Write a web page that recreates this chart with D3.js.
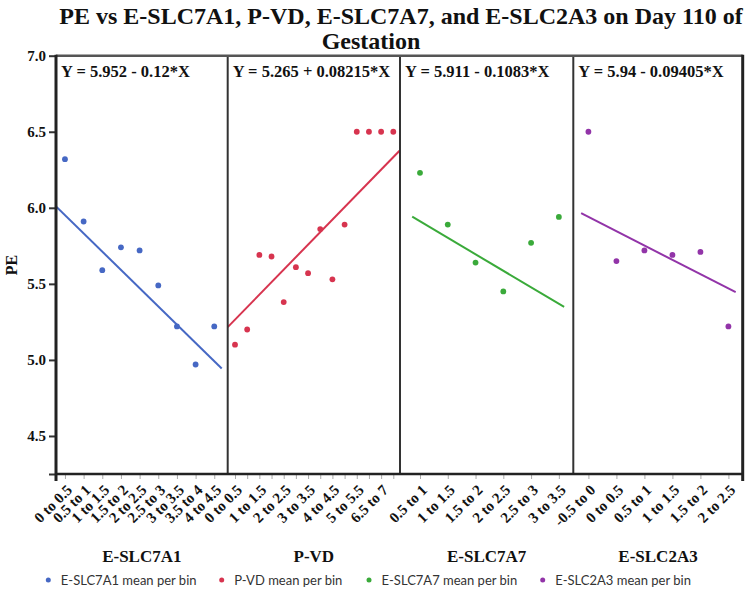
<!DOCTYPE html>
<html>
<head>
<meta charset="utf-8">
<script src="https://cdn.jsdelivr.net/npm/d3@7"></script>
<style>
  html, body { margin: 0; padding: 0; background: #fff; }
  svg { display: block; }
</style>
</head>
<body>
<svg id="chart" width="750" height="591"></svg>
<script>
// ---------- DATA ----------
const titleLines = ["PE vs E-SLC7A1, P-VD, E-SLC7A7, and E-SLC2A3 on Day 110 of", "Gestation"];
const yLabel = "PE";
const panelNames = ["E-SLC7A1", "P-VD", "E-SLC7A7", "E-SLC2A3"];

const binsSLC7A1 = ["0 to 0.5", "0.5 to 1", "1 to 1.5", "1.5 to 2", "2 to 2.5", "2.5 to 3", "3 to 3.5", "3.5 to 4", "4 to 4.5"];
const meansSLC7A1 = [6.32, 5.91, 5.59, 5.74, 5.72, 5.49, 5.22, 4.97, 5.22];

const binsPVD = ["0 to 0.5", "0.5 to 1", "1 to 1.5", "1.5 to 2", "2 to 2.5", "2.5 to 3", "3 to 3.5", "3.5 to 4", "4 to 4.5", "4.5 to 5", "5 to 5.5", "5.5 to 6", "6.5 to 7", "7 to 7.5"];
const meansPVD = [5.10, 5.20, 5.69, 5.68, 5.38, 5.61, 5.57, 5.86, 5.53, 5.89, 6.50, 6.50, 6.50, 6.50];
const shownPVDLabels = ["0 to 0.5", "1 to 1.5", "2 to 2.5", "3 to 3.5", "4 to 4.5", "5 to 5.5", "6.5 to 7"];

const binsSLC7A7 = ["0.5 to 1", "1 to 1.5", "1.5 to 2", "2 to 2.5", "2.5 to 3", "3 to 3.5"];
const meansSLC7A7 = [6.23, 5.89, 5.64, 5.45, 5.77, 5.94];

const binsSLC2A3 = ["-0.5 to 0", "0 to 0.5", "0.5 to 1", "1 to 1.5", "1.5 to 2", "2 to 2.5"];
const meansSLC2A3 = [6.50, 5.65, 5.72, 5.69, 5.71, 5.22];

const intercepts = [5.952, 5.265, 5.911, 5.94];
const slopes = [-0.12, 0.08215, -0.1083, -0.09405];
const equations = ["Y = 5.952 - 0.12*X", "Y = 5.265 + 0.08215*X", "Y = 5.911 - 0.1083*X", "Y = 5.94 - 0.09405*X"];
// predictor extent (in bin-index units) over which each fit line is drawn
const fitExtents = [[-0.45, 8.4], [-0.6, 13.55], [-0.28, 5.19], [-0.26, 5.26]];

const yTicks = [4.5, 5.0, 5.5, 6.0, 6.5, 7.0];
const yDomain = [4.25, 7.0];
const legendLabels = ["E-SLC7A1 mean per bin", "P-VD mean per bin", "E-SLC7A7 mean per bin", "E-SLC2A3 mean per bin"];

// ---------- LAYOUT / STYLE ----------
const colors = ["#4668c4", "#d7344f", "#3aaa3a", "#9234a8"];
const panelEdges = [56, 227.7, 400, 573.3, 742.7];
const panelXDomains = [[-0.48, 8.72], [-0.6, 13.55], [-0.72, 5.52], [-0.54, 5.51]];
const plotTop = 55.7, plotBottom = 474;
const serif = "'Liberation Serif', 'Times New Roman', serif";
const sans = "Lato, 'Noto Sans', sans-serif";

const panels = [
  { bins: binsSLC7A1, means: meansSLC7A1, shown: binsSLC7A1 },
  { bins: binsPVD, means: meansPVD, shown: shownPVDLabels },
  { bins: binsSLC7A7, means: meansSLC7A7, shown: binsSLC7A7 },
  { bins: binsSLC2A3, means: meansSLC2A3, shown: binsSLC2A3 }
];

const svg = d3.select("#chart");
const y = d3.scaleLinear().domain(yDomain).range([plotBottom, plotTop]);

// Title
svg.append("text").attr("x", 401).attr("y", 24).attr("text-anchor", "middle")
  .attr("font-family", serif).attr("font-weight", "bold").attr("font-size", 24).attr("fill", "#111")
  .text(titleLines[0]);
svg.append("text").attr("x", 371).attr("y", 49).attr("text-anchor", "middle")
  .attr("font-family", serif).attr("font-weight", "bold").attr("font-size", 24).attr("fill", "#111")
  .text(titleLines[1]);

// Y axis label
svg.append("text").attr("transform", `translate(16.5,265) rotate(-90)`).attr("text-anchor", "middle")
  .attr("font-family", serif).attr("font-weight", "bold").attr("font-size", 16).attr("fill", "#111")
  .text(yLabel);

// Y axis
const yAxis = d3.axisLeft(y).tickValues(yTicks.concat([yDomain[0]])).tickSize(7).tickPadding(3)
  .tickFormat(d => yTicks.includes(d) ? d3.format(".1f")(d) : "");
const gy = svg.append("g").attr("transform", `translate(${panelEdges[0]},0)`).call(yAxis);
gy.select(".domain").remove();
gy.selectAll(".tick line").attr("stroke", "#333").attr("stroke-width", 2);
gy.selectAll(".tick text").attr("font-family", serif).attr("font-weight", "bold")
  .attr("font-size", 15).attr("fill", "#111");

// Panels
panels.forEach((p, i) => {
  const x0 = panelEdges[i], x1 = panelEdges[i + 1];
  const x = d3.scaleLinear().domain(panelXDomains[i]).range([x0, x1]);
  const g = svg.append("g");
  const clipId = "clip" + i;
  svg.append("clipPath").attr("id", clipId).append("rect")
    .attr("x", x0).attr("y", plotTop).attr("width", x1 - x0).attr("height", plotBottom - plotTop);

  // x axis ticks
  const idx = d3.range(p.bins.length);
  const xAxis = d3.axisBottom(x).tickValues(idx).tickSize(5).tickFormat("");
  const gx = g.append("g").attr("transform", `translate(0,${plotBottom})`).call(xAxis);
  gx.select(".domain").remove();
  gx.selectAll(".tick line").attr("stroke", "#aaa").attr("stroke-width", 1);

  // rotated tick labels
  g.selectAll("text.xlab").data(idx.filter(k => p.shown.includes(p.bins[k])))
    .enter().append("text").attr("class", "xlab")
    .attr("transform", k => `translate(${x(k) + 8},${plotBottom + 17}) rotate(-45)`)
    .attr("text-anchor", "end")
    .attr("font-family", serif).attr("font-weight", "bold").attr("font-size", 15).attr("fill", "#111")
    .text(k => p.bins[k]);

  // equation
  g.append("text").attr("x", x0 + 5).attr("y", 76.5)
    .attr("font-family", serif).attr("font-weight", "bold").attr("font-size", 16.5).attr("fill", "#111")
    .text(equations[i]);

  // points
  g.selectAll("circle").data(p.means).enter().append("circle")
    .attr("cx", (d, k) => x(k)).attr("cy", d => y(d)).attr("r", 2.9).attr("fill", colors[i]);

  // fit line
  const line = d3.line().x(d => x(d)).y(d => y(intercepts[i] + slopes[i] * d));
  g.append("path").datum(fitExtents[i]).attr("d", line)
    .attr("clip-path", `url(#${clipId})`)
    .attr("fill", "none").attr("stroke", colors[i]).attr("stroke-width", 2);

  // group label
  g.append("text").attr("x", (x0 + x1) / 2).attr("y", 562).attr("text-anchor", "middle")
    .attr("font-family", serif).attr("font-weight", "bold").attr("font-size", 17).attr("fill", "#111")
    .text(panelNames[i]);
});

// Frames
panelEdges.slice(1, -1).forEach(xe => {
  svg.append("line").attr("x1", xe).attr("x2", xe).attr("y1", plotTop).attr("y2", plotBottom)
    .attr("stroke", "#333").attr("stroke-width", 2);
});
svg.append("line").attr("x1", panelEdges[0]).attr("x2", panelEdges[4]).attr("y1", plotTop).attr("y2", plotTop)
  .attr("stroke", "#555").attr("stroke-width", 2.5);
svg.append("line").attr("x1", panelEdges[0]).attr("x2", panelEdges[4]).attr("y1", plotBottom).attr("y2", plotBottom)
  .attr("stroke", "#222").attr("stroke-width", 2.5);
svg.append("line").attr("x1", panelEdges[0]).attr("x2", panelEdges[0]).attr("y1", plotTop - 1).attr("y2", plotBottom + 7)
  .attr("stroke", "#222").attr("stroke-width", 3);
svg.append("line").attr("x1", panelEdges[4]).attr("x2", panelEdges[4]).attr("y1", plotTop - 1).attr("y2", plotBottom + 7)
  .attr("stroke", "#222").attr("stroke-width", 3);

// Legend
const legendX = [48.3, 221.7, 369, 542.7];
const lg = svg.append("g");
legendLabels.forEach((lab, i) => {
  lg.append("circle").attr("cx", legendX[i]).attr("cy", 580).attr("r", 2.5).attr("fill", colors[i]);
  lg.append("text").attr("x", legendX[i] + 12.5).attr("y", 584.5)
    .attr("font-family", sans).attr("font-size", 13).attr("fill", "#333").text(lab);
});
</script>
</body>
</html>
